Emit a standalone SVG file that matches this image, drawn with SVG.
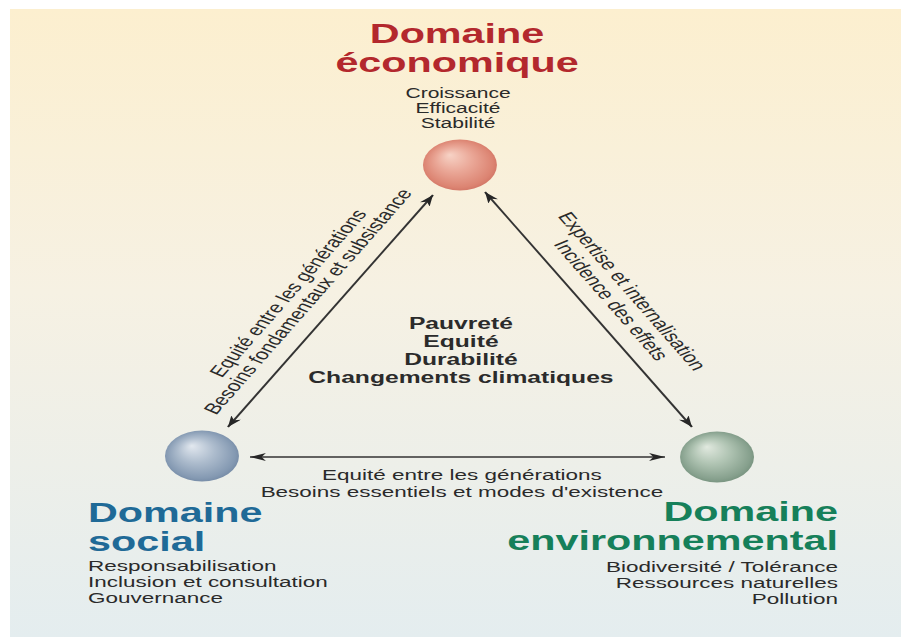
<svg xmlns="http://www.w3.org/2000/svg" width="901" height="641" viewBox="0 0 901 641">
  <defs>
    <linearGradient id="bg" x1="0" y1="0" x2="0" y2="1">
      <stop offset="0" stop-color="#fcefcf"/>
      <stop offset="0.45" stop-color="#f6f1e3"/>
      <stop offset="1" stop-color="#e4edef"/>
    </linearGradient>
    <radialGradient id="gEco" cx="0.5" cy="0.5" r="0.55" fx="0.36" fy="0.3">
      <stop offset="0" stop-color="#f7d3c6"/>
      <stop offset="0.45" stop-color="#eaa797"/>
      <stop offset="0.85" stop-color="#dc8472"/>
      <stop offset="1" stop-color="#cd6f60"/>
    </radialGradient>
    <radialGradient id="gSoc" cx="0.5" cy="0.5" r="0.55" fx="0.36" fy="0.3">
      <stop offset="0" stop-color="#e2e8ef"/>
      <stop offset="0.45" stop-color="#adbccd"/>
      <stop offset="0.85" stop-color="#8499b2"/>
      <stop offset="1" stop-color="#6e84a0"/>
    </radialGradient>
    <radialGradient id="gEnv" cx="0.5" cy="0.5" r="0.55" fx="0.36" fy="0.3">
      <stop offset="0" stop-color="#e1e9df"/>
      <stop offset="0.45" stop-color="#b0c4b3"/>
      <stop offset="0.85" stop-color="#86a08d"/>
      <stop offset="1" stop-color="#708c78"/>
    </radialGradient>
    <marker id="arr" viewBox="0 0 11 8" refX="11" refY="4" markerWidth="11" markerHeight="8" markerUnits="userSpaceOnUse" orient="auto-start-reverse">
      <path d="M0,0 L11,4 L0,8 L3,4 Z" fill="#262626"/>
    </marker>
  </defs>
  <style>
    text { font-family: "Liberation Sans", Arial, sans-serif; }
    .title { font-weight: bold; font-size: 28.5px; }
    .eco { fill: #b3282d; }
    .soc { fill: #1f6a97; }
    .env { fill: #16805a; }
    .item { font-size: 15.5px; fill: #2a2a2a; }
    .itemTop { font-size: 14.5px; fill: #2a2a2a; }
    .theme { font-weight: bold; font-size: 17px; fill: #2b2b2b; }
    .link { stroke: #333333; stroke-width: 1.5; fill: none; marker-start: url(#arr); marker-end: url(#arr); }
  </style>

  <rect x="10" y="9" width="895" height="628" fill="url(#bg)"/>

  <g transform="scale(1.45 1)">
    <g id="connectors">
      <g id="link-eco-soc">
        <line class="link" x1="157.2" y1="427" x2="298.6" y2="195"/>
        <text class="item" text-anchor="middle" transform="translate(203.1 295.9) rotate(-58.64)">Equité entre les générations</text>
        <text class="item" text-anchor="middle" transform="translate(216.8 304.2) rotate(-58.64)">Besoins fondamentaux et subsistance</text>
      </g>
      <g id="link-eco-env">
        <line class="link" x1="334.5" y1="192" x2="477.2" y2="427"/>
        <text class="item" text-anchor="middle" transform="translate(431.5 293.9) rotate(58.73)">Expertise et internalisation</text>
        <text class="item" text-anchor="middle" transform="translate(417.0 302.8) rotate(58.73)">Incidence des effets</text>
      </g>
      <g id="link-soc-env">
        <line class="link" x1="172.4" y1="457" x2="458.6" y2="457"/>
        <text class="item" text-anchor="middle" x="318.6" y="480">Equité entre les générations</text>
        <text class="item" text-anchor="middle" x="318.6" y="497">Besoins essentiels et modes d'existence</text>
      </g>
    </g>

    <g id="node-economique">
      <circle cx="317.2" cy="165" r="25.5" fill="url(#gEco)"/>
      <text class="title eco" text-anchor="middle"><tspan x="315.2" y="43">Domaine</tspan><tspan x="315.2" y="72">économique</tspan></text>
      <text class="itemTop" text-anchor="middle" x="315.9" y="98">Croissance</text>
      <text class="itemTop" text-anchor="middle" x="315.9" y="113">Efficacité</text>
      <text class="itemTop" text-anchor="middle" x="315.9" y="128">Stabilité</text>
    </g>

    <g id="node-social">
      <circle cx="139.3" cy="456" r="25.5" fill="url(#gSoc)"/>
      <text class="title soc"><tspan x="60.7" y="522">Domaine</tspan><tspan x="60.7" y="551">social</tspan></text>
      <text class="item" x="60.7" y="571">Responsabilisation</text>
      <text class="item" x="60.7" y="587">Inclusion et consultation</text>
      <text class="item" x="60.7" y="603">Gouvernance</text>
    </g>

    <g id="node-environnemental">
      <circle cx="494.5" cy="457" r="25.5" fill="url(#gEnv)"/>
      <text class="title env" text-anchor="end"><tspan x="577.9" y="521">Domaine</tspan><tspan x="577.9" y="550">environnemental</tspan></text>
      <text class="item" text-anchor="end" x="577.9" y="572">Biodiversité / Tolérance</text>
      <text class="item" text-anchor="end" x="577.9" y="588">Ressources naturelles</text>
      <text class="item" text-anchor="end" x="577.9" y="604">Pollution</text>
    </g>

    <g id="center-themes">
      <text class="theme" text-anchor="middle" x="317.9" y="329">Pauvreté</text>
      <text class="theme" text-anchor="middle" x="317.9" y="347">Equité</text>
      <text class="theme" text-anchor="middle" x="317.9" y="365">Durabilité</text>
      <text class="theme" text-anchor="middle" x="317.9" y="383">Changements climatiques</text>
    </g>
  </g>
</svg>
